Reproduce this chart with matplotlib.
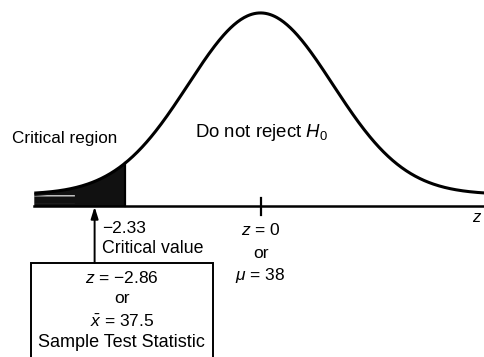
import numpy as np
import matplotlib
matplotlib.use('Agg')
import matplotlib.pyplot as plt
from matplotlib.patches import Rectangle

plt.rcParams['font.family'] = ['Liberation Sans', 'DejaVu Sans']
plt.rcParams['mathtext.fontset'] = 'custom'
plt.rcParams['mathtext.rm'] = 'Liberation Sans'
plt.rcParams['mathtext.it'] = 'Liberation Sans:italic'
plt.rcParams['hatch.linewidth'] = 0.8

# test values
CRIT_Z = -2.33
TEST_Z = -2.86
MU = 38
XBAR = 37.5

# drawn bell: core spread (in z) and the floor the tails level off at
BELL_VAR = 1.55
BELL_FLOOR = 0.06
Z_START = -3.9
Z_END = 3.9


def bell(z):
    return BELL_FLOOR + (1 - BELL_FLOOR) * np.exp(-z ** 2 / (2 * BELL_VAR))


fig = plt.figure(figsize=(4.84, 3.57), dpi=100)
ax = fig.add_axes([0, 0, 1, 1])
ax.set_xlim(-4.491, 3.853)
ax.set_ylim(-0.782, 1.067)
ax.axis('off')

z = np.linspace(Z_START, Z_END, 400)
ax.plot(z, bell(z), color='black', lw=2.2, solid_capstyle='butt', zorder=4)

# rejection tail (the far end is streaky in print)
zt = np.linspace(Z_START, CRIT_Z, 120)
ax.fill_between(zt, 0, bell(zt), facecolor='#111111', edgecolor='none', zorder=2)
zs = np.linspace(Z_START, -3.2, 40)
ax.fill_between(zs, 0.015, bell(zs) - 0.015, facecolor='none', edgecolor='white',
                hatch='--', lw=0, zorder=2.5)
ax.plot([CRIT_Z, CRIT_Z], [0, bell(CRIT_Z)], color='black', lw=1.6, zorder=4)

# z axis and tick at the mean
ax.plot([Z_START, Z_END], [0, 0], color='black', lw=1.8, zorder=3)
ax.plot([0, 0], [0.041, -0.047], color='black', lw=1.6, zorder=3)
ax.text(3.64, -0.083, '$z$', fontsize=12, va='baseline', ha='left')

ax.text(-4.28, 0.325, 'Critical region', fontsize=12.3, va='baseline', ha='left')
ax.text(-1.13, 0.356, 'Do not reject $H_0$', fontsize=13.4, va='baseline', ha='left')

ax.text(-2.73, -0.141, '\u2212{:.2f}'.format(abs(CRIT_Z)), fontsize=12.5,
        va='baseline', ha='left')
ax.text(-2.73, -0.245, 'Critical value', fontsize=12.8, va='baseline', ha='left')

ax.text(0, -0.150, '$z$ = 0', fontsize=12.5, va='baseline', ha='center')
ax.text(0, -0.267, 'or', fontsize=12.5, va='baseline', ha='center')
ax.text(0, -0.383, '$\\mu$ = {}'.format(MU), fontsize=12.5, va='baseline', ha='center')

# test statistic box with arrow up to the axis
box_top = -0.295
ax.add_patch(Rectangle((-3.96, -0.95), -0.82 - (-3.96), box_top + 0.95,
                       facecolor='white', edgecolor='black', lw=1.4, zorder=3))
ax.annotate('', xy=(TEST_Z, -0.004), xytext=(TEST_Z, box_top),
            arrowprops=dict(arrowstyle='-|>,head_length=0.7,head_width=0.22',
                            color='black', lw=1.4, shrinkA=0, shrinkB=0),
            zorder=4)

bx = -2.39
ax.text(bx, -0.400, '$z$ = \u2212{:.2f}'.format(abs(TEST_Z)), fontsize=12.5,
        va='baseline', ha='center', zorder=5)
ax.text(bx, -0.504, 'or', fontsize=12.5, va='baseline', ha='center', zorder=5)
ax.text(bx, -0.625, '$\\bar{{x}}$ = {}'.format(XBAR), fontsize=12.5,
        va='baseline', ha='center', zorder=5)
ax.text(bx, -0.729, 'Sample Test Statistic', fontsize=13, va='baseline',
        ha='center', zorder=5)

fig.savefig('out.png', dpi=100)
